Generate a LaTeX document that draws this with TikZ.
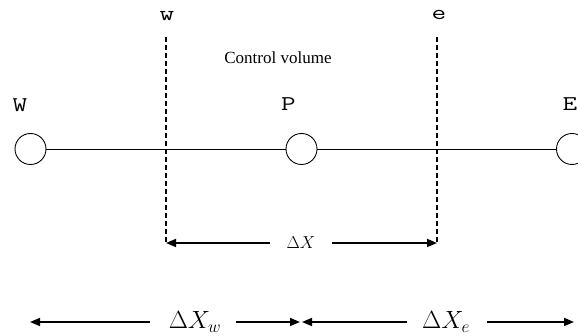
\documentclass[tikz,border=0pt]{standalone}
\usepackage{fontspec}
\setmainfont{Liberation Serif}
\usetikzlibrary{arrows.meta}
\begin{document}
\begin{tikzpicture}[x=1pt,y=1pt,
  gridnode/.style={circle,draw,line width=0.9pt,minimum size=31pt,inner sep=0pt},
  letterlab/.style={font=\ttfamily\fontsize{21}{21}\selectfont,inner sep=0pt,xscale=1.35,transform shape},
  facedash/.style={line width=2pt,dash pattern=on 5pt off 3pt},
  dimarrow/.style={line width=1.7pt,-{Triangle[length=10pt,width=8pt]}},
  smalldim/.style={font=\fontsize{18}{18}\selectfont,inner sep=0pt},
  bigdim/.style={font=\fontsize{24}{24}\selectfont,inner sep=0pt}]
\useasboundingbox (0,0) rectangle (578,336);
% nodes
\node[gridnode] (W) at (30.5,187) {};
\node[gridnode] (P) at (301.5,187) {};
\node[gridnode] (E) at (572,187) {};
\draw[line width=0.9pt] (W) -- (P);
\draw[line width=0.9pt] (P) -- (E);
% labels
\node[letterlab] (Wl) at (20,231) {W};
\node[letterlab] (Pl) at (288.5,232) {P};
\node[letterlab] (El) at (570,232) {E};
\node[letterlab] (wl) at (167,320) {w};
\node[letterlab] (el) at (439,321) {e};
\node[font=\fontsize{17}{17}\selectfont,inner sep=0pt] (cv) at (278,278) {Control volume};
% faces
\coordinate (wt) at (166,299);
\coordinate (wb) at (166,93);
\coordinate (et) at (437,299);
\coordinate (eb) at (437,93);
\draw[facedash] (wt) -- (wb);
\draw[facedash] (et) -- (eb);
% Delta X
\node[smalldim] (dx) at (301,93) {$\Delta X$};
\coordinate (dxl) at (270,93);
\coordinate (dxr) at (332,93);
\draw[dimarrow] (dxl) -- (wb);
\draw[dimarrow] (dxr) -- (eb);
% bottom
\node[bigdim] (dxw) at (195,14) {$\Delta X_w$};
\node[bigdim] (dxe) at (446,14) {$\Delta X_e$};
\coordinate (a1t) at (150,14);
\coordinate (a1h) at (30,14);
\coordinate (a2t) at (236,14);
\coordinate (a2h) at (300,14);
\coordinate (a3t) at (407,14);
\coordinate (a3h) at (302,14);
\coordinate (a4t) at (487,14);
\coordinate (a4h) at (574,14);
\draw[dimarrow] (a1t) -- (a1h);
\draw[dimarrow] (a2t) -- (a2h);
\draw[dimarrow] (a3t) -- (a3h);
\draw[dimarrow] (a4t) -- (a4h);
\end{tikzpicture}
\end{document}
